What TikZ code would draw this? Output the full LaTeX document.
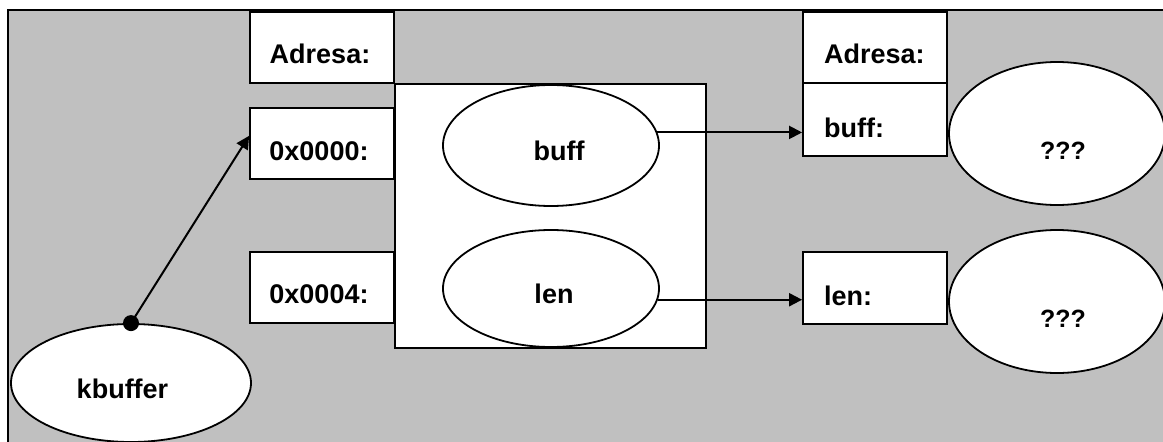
\documentclass[tikz,border=0pt]{standalone}
\usepackage{fontspec}
\setmainfont{Liberation Sans}
\usetikzlibrary{shapes.geometric,arrows.meta,calc}
\definecolor{bg}{RGB}{192,192,192}
\begin{document}
\begin{tikzpicture}[x=1pt,y=-1pt,
 box/.style={draw,fill=white,line width=1.8pt,rectangle,inner sep=0pt},
 ell/.style={draw,fill=white,line width=1.8pt,ellipse,inner sep=0pt},
 lbl/.style={font=\fontsize{27}{32}\selectfont\bfseries,inner sep=0pt,anchor=base},
 lbll/.style={lbl,anchor=base west},
 qlbl/.style={lbl,font=\fontsize{25}{30}\selectfont\bfseries},
 arr/.style={line width=2pt,-{Triangle[length=13pt,width=13pt]}}]
\useasboundingbox (0,0) rectangle (1163,442);
\fill[bg,draw=black,line width=2pt] (8,10) rectangle (1180,460);
% memory block
\node[box,minimum width=311pt,minimum height=264pt] (mem) at (550.5,216) {};
\node[box,minimum width=144pt,minimum height=71pt] (ladr) at (322,47.5) {};
\node[box,minimum width=144pt,minimum height=71pt] (box0) at (322,143.5) {};
\node[box,minimum width=144pt,minimum height=71pt] (box4) at (322,287.5) {};
\node[ell,minimum width=216pt,minimum height=121pt] (buffE) at (551,145.5) {};
\node[ell,minimum width=216pt,minimum height=117pt] (lenE) at (551,288.5) {};
\node[ell,minimum width=240pt,minimum height=118pt] (kbuf) at (131,383) {};
% right side
\node[box,minimum width=144pt,minimum height=71pt] (radr) at (875,47.5) {};
\node[box,minimum width=144pt,minimum height=73pt] (rbuff) at (875,119.5) {};
\node[box,minimum width=144pt,minimum height=72pt] (rlen) at (875,288) {};
\node[ell,minimum width=216pt,minimum height=143pt] (q1) at (1057,133.5) {};
\node[ell,minimum width=216pt,minimum height=143pt] (q2) at (1057,301.5) {};
% labels
\node[lbl] (tladr) at (320,63) {Adresa:};
\node[lbl] (tbox0) at (319,160) {0x0000:};
\node[lbl] (tbox4) at (319,303) {0x0004:};
\node[lbl] (tbuff) at (559,160) {buff};
\node[lbl] (tlen) at (554,303) {len};
\node[lbl] (tkbuf) at (122.5,398) {kbuffer};
\node[lbll] (tradr) at (824,63) {Adresa:};
\node[lbll] (trbuff) at (824,137) {buff:};
\node[lbll] (trlen) at (824,305) {len:};
\node[qlbl] (tq1) at (1063,159) {???};
\node[qlbl] (tq2) at (1063,327) {???};
% connectors
\draw[arr] (buffE.7) -- (buffE.7 -| rbuff.west);
\draw[arr] (lenE.-6) -- (lenE.-6 -| rlen.west);
\draw[arr] (kbuf.north) -- (box0.174);
\fill (kbuf.north) circle (8pt);
\end{tikzpicture}
\end{document}
